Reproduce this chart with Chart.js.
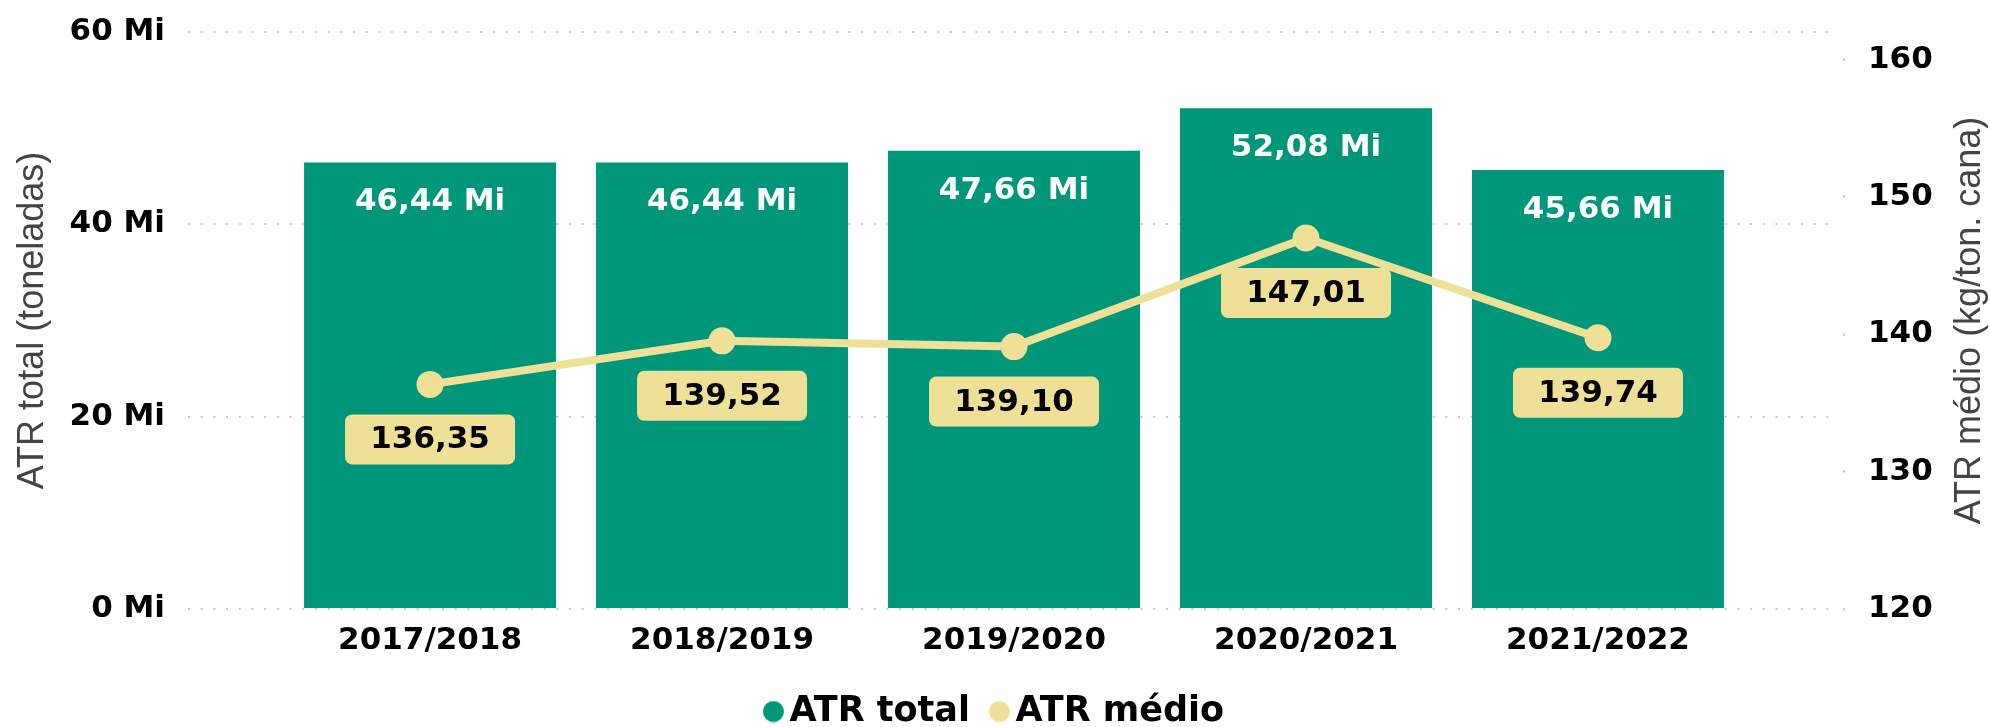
<!DOCTYPE html>
<html lang="pt-BR">
<head>
<meta charset="utf-8">
<title>ATR total e ATR médio por safra</title>
<script src="https://cdn.jsdelivr.net/npm/chart.js"></script>
<style>
  html, body { margin: 0; padding: 0; background: #fff; }
  #wrap { width: 1990px; height: 727px; position: relative; }
</style>
</head>
<body>
<div id="wrap"><canvas id="atrChart"></canvas></div>
<script>
// dados
const safras = ["2017/2018", "2018/2019", "2019/2020", "2020/2021", "2021/2022"];
const atrTotal = [46.44, 46.44, 47.66, 52.08, 45.66];   // milhões de toneladas
const atrMedio = [136.35, 139.52, 139.10, 147.01, 139.74]; // kg/ton. cana
const ticksTotal = [0, 20, 40, 60];
const ticksMedio = [120, 130, 140, 150, 160];

const VERDE = "#00967A";
const CAQUI = "#EFE098";
const FONTE_B = "DejaVu Sans";
const FONTE_T = "Liberation Sans";

function fmt(v) {
  return v.toFixed(2).replace(".", ",");
}

// bolinha da legenda (imagem, deslocada um pouco para a direita)
function makeDot(color) {
  const c = document.createElement("canvas");
  c.width = 32; c.height = 22;
  const g = c.getContext("2d");
  g.fillStyle = color;
  g.beginPath();
  g.arc(20.5, 11, 10.5, 0, Math.PI * 2);
  g.fill();
  return c;
}
const dots = [makeDot(VERDE), makeDot(CAQUI)];

/** rótulos das barras, caixas do ATR médio e título do eixo direito */
const rotulos = {
  id: "rotulos",
  afterDatasetsDraw(chart) {
    const ctx = chart.ctx;
    ctx.save();
    ctx.font = `bold 31px "${FONTE_B}"`;
    ctx.textAlign = "center";
    ctx.textBaseline = "middle";

    chart.getDatasetMeta(0).data.forEach((bar, i) => {
      ctx.fillStyle = "#fff";
      ctx.fillText(fmt(atrTotal[i]) + " Mi", bar.x, bar.y + 40);
    });

    chart.getDatasetMeta(1).data.forEach((pt, i) => {
      const w = 170, h = 50, top = pt.y + 30;
      ctx.fillStyle = CAQUI;
      ctx.beginPath();
      ctx.roundRect(pt.x - w / 2, top, w, h, 7);
      ctx.fill();
      ctx.fillStyle = "#000";
      ctx.fillText(fmt(atrMedio[i]), pt.x, top + h / 2 + 1);
    });

    // título do eixo direito, lido de baixo para cima como o da esquerda
    const s = chart.scales.y1;
    ctx.translate(s.right - 20, (s.top + s.bottom) / 2);
    ctx.rotate(-Math.PI / 2);
    ctx.font = `36px "${FONTE_T}"`;
    ctx.fillStyle = "#444";
    ctx.fillText("ATR médio (kg/ton. cana)", 0, 0);
    ctx.restore();
  }
};

const chart = new Chart(document.getElementById("atrChart"), {
  type: "bar",
  data: {
    datasets: [
      {
        type: "bar",
        label: "ATR total",
        data: atrTotal.map((v, i) => ({ x: i, y: v })),
        backgroundColor: VERDE,
        yAxisID: "y",
        barPercentage: 0.863,
        categoryPercentage: 1.0,
        order: 2
      },
      {
        type: "line",
        label: "ATR médio",
        data: atrMedio.map((v, i) => ({ x: i, y: v })),
        borderColor: CAQUI,
        backgroundColor: CAQUI,
        borderWidth: 8,
        pointRadius: 13.5,
        pointBackgroundColor: CAQUI,
        pointBorderWidth: 0,
        tension: 0,
        yAxisID: "y1",
        order: 1
      }
    ]
  },
  options: {
    responsive: true,
    maintainAspectRatio: false,
    animation: false,
    events: [],
    layout: { padding: { top: 32, left: 0, right: 0, bottom: 0 } },
    scales: {
      x: {
        type: "linear",
        offset: false,
        min: -0.829,
        max: 4.822,
        afterBuildTicks: (s) => { s.ticks = safras.map((_, i) => ({ value: i })); },
        afterFit: (s) => { s.height = 63; },
        grid: { display: false },
        border: { display: false },
        ticks: {
          callback: (v) => safras[v] ?? "",
          font: { family: FONTE_B, size: 31, weight: "bold" },
          color: "#000",
          padding: 5,
          maxRotation: 0,
          autoSkip: false
        }
      },
      y: {
        position: "left",
        min: 0,
        max: 60,
        afterBuildTicks: (s) => { s.ticks = ticksTotal.map(v => ({ value: v })); },
        afterFit: (s) => { s.width = 188; s.paddingTop = 0; s.paddingBottom = 0; },
        grid: { color: "#C8C8C8", lineWidth: 2, drawTicks: false },
        border: { display: false, dash: [2, 10.7] },
        ticks: {
          callback: (v) => v + " Mi",
          font: { family: FONTE_B, size: 31, weight: "bold" },
          color: "#000",
          padding: 23
        },
        title: {
          display: true,
          text: "ATR total (toneladas)",
          font: { family: FONTE_T, size: 36 },
          color: "#444",
          padding: { top: 11, bottom: 0 }
        }
      },
      y1: {
        position: "right",
        min: 120,
        max: 162,
        afterBuildTicks: (s) => { s.ticks = ticksMedio.map(v => ({ value: v })); },
        afterFit: (s) => { s.width = 152; s.paddingTop = 0; s.paddingBottom = 0; },
        grid: {
          drawOnChartArea: false,
          drawTicks: true,
          tickLength: 8,
          tickWidth: 2,
          tickColor: "#BBBBBB",
          tickBorderDash: [0, 5, 2, 10]
        },
        border: { display: false },
        ticks: {
          font: { family: FONTE_B, size: 31, weight: "bold" },
          color: "#000",
          padding: 22
        }
      }
    },
    plugins: {
      tooltip: { enabled: false },
      legend: {
        position: "bottom",
        maxHeight: 55,
        labels: {
          usePointStyle: true,
          boxWidth: 6,
          boxHeight: 22,
          padding: 22,
          color: "#000",
          font: { family: FONTE_B, size: 35, weight: "bold" },
          sort: (a, b) => a.datasetIndex - b.datasetIndex,
          generateLabels: (c) => {
            const items = Chart.defaults.plugins.legend.labels.generateLabels(c);
            items.forEach(it => { it.pointStyle = dots[it.datasetIndex]; });
            return items;
          }
        }
      }
    }
  },
  plugins: [rotulos]
});
</script>
</body>
</html>
